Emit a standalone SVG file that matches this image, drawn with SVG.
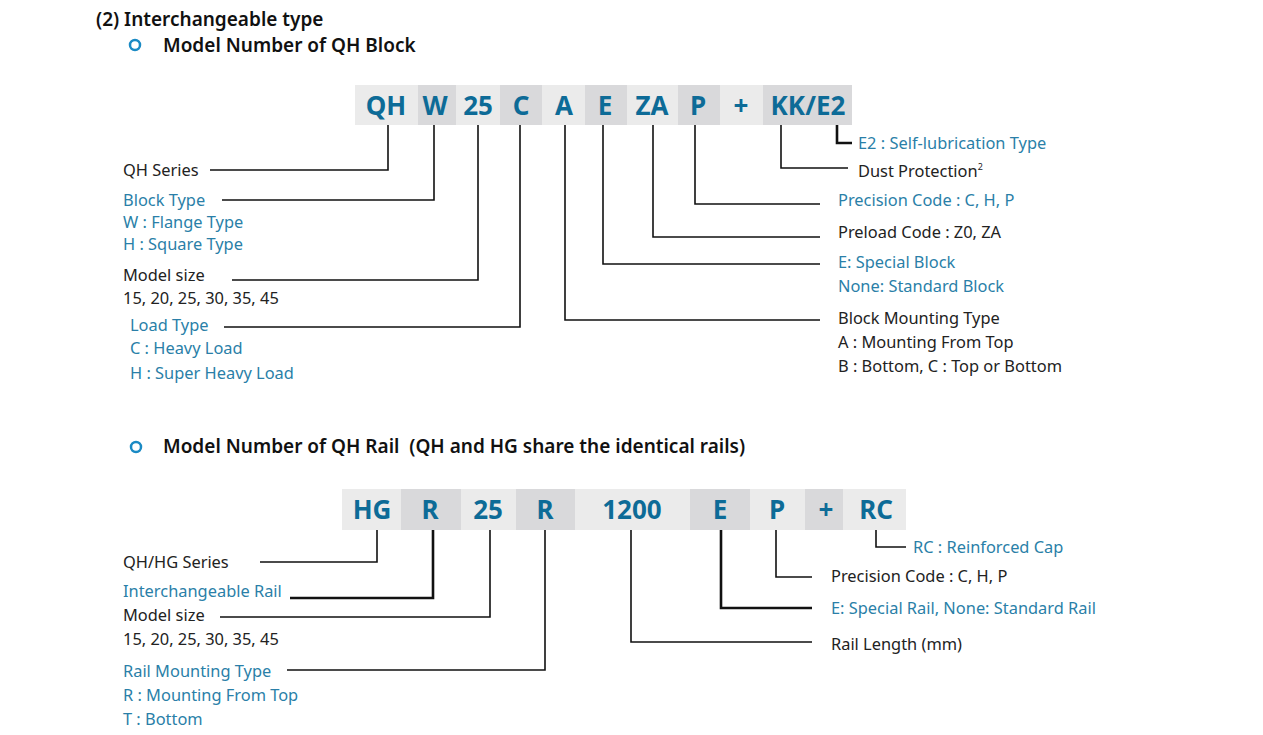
<svg xmlns="http://www.w3.org/2000/svg" width="1263" height="735" viewBox="0 0 1263 735">
<style>
text{font-family:"Noto Sans","Open Sans",sans-serif}
.h{font-size:19px;font-weight:600;fill:#111}
.c{font-size:26px;font-weight:bold;fill:#0d6b97;text-anchor:middle}
.t{font-size:16.4px;fill:#222}
.b{font-size:16.4px;fill:#2a7fa8}
.l{fill:#ebebeb}.d{fill:#d9d9db}
.k{stroke:#111;stroke-width:1.6;fill:none}
.kk{stroke:#111;stroke-width:2.6;fill:none}
</style>
<rect width="1263" height="735" fill="#fff"/>
<g id="titles">
<text class="h" x="96" y="26">(2) Interchangeable type</text>
<circle cx="135" cy="45" r="5" fill="none" stroke="#1a8ac4" stroke-width="2.5"/>
<text class="h" x="163" y="52">Model Number of QH Block</text>
<circle cx="136" cy="447" r="5" fill="none" stroke="#1a8ac4" stroke-width="2.5"/>
<text class="h" x="163" y="453" xml:space="preserve">Model Number of QH Rail  (QH and HG share the identical rails)</text>
</g>
<g id="block-code">
<rect class="l" x="355" y="85" width="63" height="40"/><text class="c" x="386" y="115">QH</text>
<rect class="d" x="418" y="85" width="38" height="40"/><text class="c" x="435" y="115">W</text>
<rect class="l" x="456" y="85" width="44" height="40"/><text class="c" x="478" y="115">25</text>
<rect class="d" x="500" y="85" width="42" height="40"/><text class="c" x="521" y="115">C</text>
<rect class="l" x="542" y="85" width="43" height="40"/><text class="c" x="564" y="115">A</text>
<rect class="d" x="585" y="85" width="42" height="40"/><text class="c" x="605" y="115">E</text>
<rect class="l" x="627" y="85" width="51" height="40"/><text class="c" x="652" y="115">ZA</text>
<rect class="d" x="678" y="85" width="42" height="40"/><text class="c" x="698" y="115">P</text>
<rect class="l" x="720" y="85" width="43" height="40"/><text class="c" x="741" y="115">+</text>
<rect class="d" x="763" y="85" width="89" height="40"/><text class="c" x="808" y="115">KK/E2</text>
</g>
<g id="rail-code">
<rect class="l" x="342" y="489" width="59" height="41"/><text class="c" x="372" y="519">HG</text>
<rect class="d" x="401" y="489" width="60" height="41"/><text class="c" x="430" y="519">R</text>
<rect class="l" x="461" y="489" width="55" height="41"/><text class="c" x="488" y="519">25</text>
<rect class="d" x="516" y="489" width="59" height="41"/><text class="c" x="545" y="519">R</text>
<rect class="l" x="575" y="489" width="115" height="41"/><text class="c" x="632" y="519">1200</text>
<rect class="d" x="690" y="489" width="60" height="41"/><text class="c" x="720" y="519">E</text>
<rect class="l" x="750" y="489" width="55" height="41"/><text class="c" x="777" y="519">P</text>
<rect class="d" x="805" y="489" width="38" height="41"/><text class="c" x="826" y="519">+</text>
<rect class="l" x="843" y="489" width="63" height="41"/><text class="c" x="876" y="519">RC</text>
</g>
<g id="connectors">
<path class="k" d="M388 125V170H210"/>
<path class="k" d="M434 125V200H222"/>
<path class="k" d="M478 125V280H232"/>
<path class="k" d="M520 125V327H224"/>
<path class="k" d="M565 125V320H820"/>
<path class="k" d="M603 125V264H820"/>
<path class="k" d="M653 125V237H820"/>
<path class="k" d="M695 125V204H820"/>
<path class="k" d="M781 125V168H848"/>
<path class="kk" d="M837 125V143H852"/>
<path class="k" d="M377 530V562H260"/>
<path class="kk" d="M433 530V598H290"/>
<path class="k" d="M490 530V617H220"/>
<path class="k" d="M545 530V670H287"/>
<path class="k" d="M631 530V642H812"/>
<path class="kk" d="M721 530V608H812"/>
<path class="k" d="M776 530V577H812"/>
<path class="k" d="M876 530V547H906"/>
</g>
<g id="block-labels">
<text class="t" x="123" y="176">QH Series</text>
<text class="b" x="123" y="206">Block Type</text>
<text class="b" x="123" y="228">W : Flange Type</text>
<text class="b" x="123" y="250">H : Square Type</text>
<text class="t" x="123" y="281">Model size</text>
<text class="t" x="123" y="304">15, 20, 25, 30, 35, 45</text>
<text class="b" x="130" y="331">Load Type</text>
<text class="b" x="130" y="354">C : Heavy Load</text>
<text class="b" x="130" y="379">H : Super Heavy Load</text>
<text class="b" x="858" y="149">E2 : Self-lubrication Type</text>
<text class="t" x="858" y="177">Dust Protection<tspan font-size="9" dy="-7">2</tspan></text>
<text class="b" x="838" y="206">Precision Code : C, H, P</text>
<text class="t" x="838" y="238">Preload Code : Z0, ZA</text>
<text class="b" x="838" y="268">E: Special Block</text>
<text class="b" x="838" y="292">None: Standard Block</text>
<text class="t" x="838" y="324">Block Mounting Type</text>
<text class="t" x="838" y="348">A : Mounting From Top</text>
<text class="t" x="838" y="372">B : Bottom, C : Top or Bottom</text>
</g>
<g id="rail-labels">
<text class="t" x="123" y="568">QH/HG Series</text>
<text class="b" x="123" y="597">Interchangeable Rail</text>
<text class="t" x="123" y="621">Model size</text>
<text class="t" x="123" y="645">15, 20, 25, 30, 35, 45</text>
<text class="b" x="123" y="677">Rail Mounting Type</text>
<text class="b" x="123" y="701">R : Mounting From Top</text>
<text class="b" x="123" y="725">T : Bottom</text>
<text class="b" x="913" y="553">RC : Reinforced Cap</text>
<text class="t" x="831" y="582">Precision Code : C, H, P</text>
<text class="b" x="831" y="614">E: Special Rail, None: Standard Rail</text>
<text class="t" x="831" y="650">Rail Length (mm)</text>
</g>
</svg>
